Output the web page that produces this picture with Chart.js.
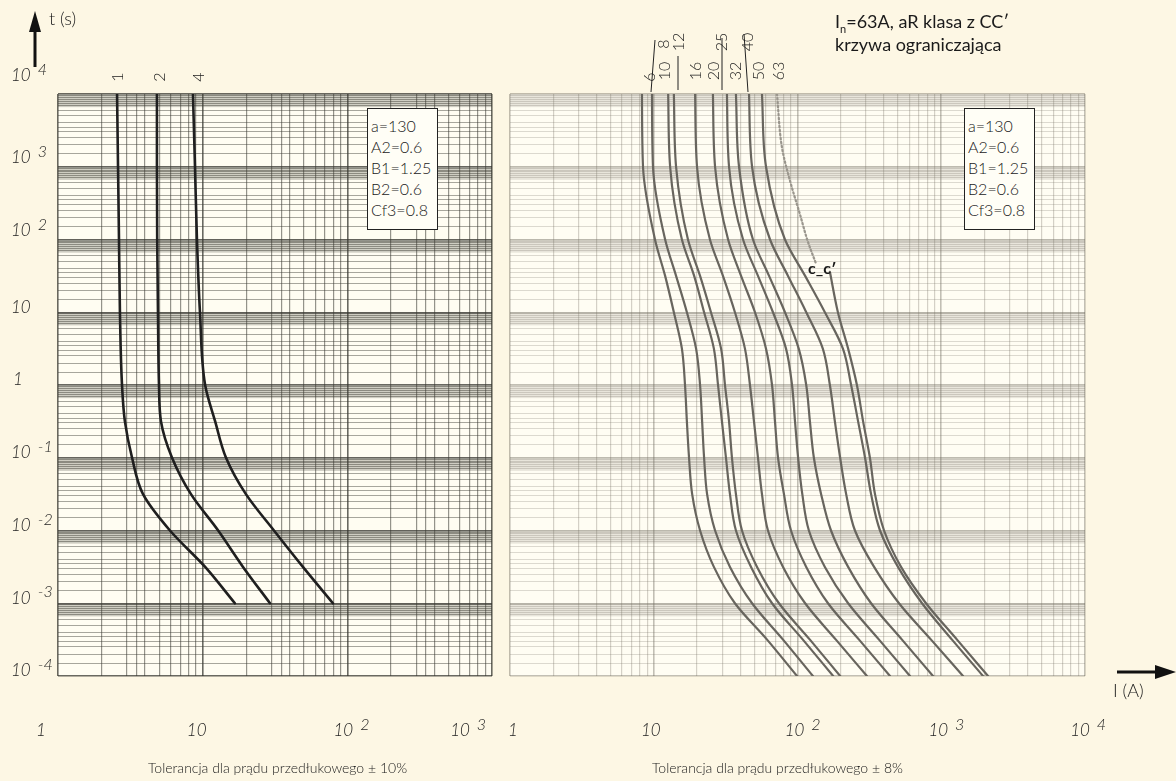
<!DOCTYPE html>
<html lang="pl">
<head>
<meta charset="UTF-8">
<title>Charakterystyki czasowo-prądowe aR</title>
<script src="https://cdn.jsdelivr.net/npm/chart.js"></script>
<style>
  body { margin:0; background:#fdf7e4; width:1176px; height:781px; position:relative; overflow:hidden;
         font-family: Lato, "Open Sans", sans-serif; color:#1a1a1a; }
  canvas { position:absolute; top:0; }
  #leftChart { left:0; }
  #rightChart { left:500px; }
  .txt { position:absolute; white-space:nowrap; font-weight:300; }
  .box { position:absolute; border:1px solid #222; background:#fffef6; font-weight:300;
         font-size:16px; line-height:21px; padding:6px 2px 9px 3px; width:64px; }
  .rot { position:absolute; transform:translate(-50%,-50%) rotate(-90deg); font-size:16px; font-weight:300; }
  svg { position:absolute; left:0; top:0; }
</style>
</head>
<body>

<canvas id="leftChart" width="500" height="781"></canvas>
<canvas id="rightChart" width="676" height="781"></canvas>

<svg width="1176" height="781">
  <line x1="35" y1="67" x2="35" y2="28" stroke="#111" stroke-width="3"/>
  <polygon points="35,11 29,32 41,32" fill="#111"/>
  <line x1="1117" y1="672" x2="1158" y2="672" stroke="#111" stroke-width="3"/>
  <polygon points="1176,672 1155,665 1155,679" fill="#111"/>
  <!-- leader lines under the rating labels -->
  <line x1="655" y1="40" x2="651" y2="92" stroke="#222" stroke-width="1"/>
  <line x1="678" y1="56" x2="678" y2="90" stroke="#222" stroke-width="1"/>
  <line x1="722" y1="38" x2="722" y2="90" stroke="#222" stroke-width="1"/>
  <line x1="744" y1="34" x2="748" y2="92" stroke="#222" stroke-width="1"/>
</svg>

<div class="txt" style="left:49px; top:7px; font-size:18px;">t (s)</div>
<div class="txt" style="left:1113px; top:679px; font-size:18px;">I (A)</div>
<div class="txt" style="left:835px; top:10px; font-size:18px; font-weight:400;">I<sub style="font-size:11px;">n</sub>=63A, aR klasa z CC′</div>
<div class="txt" style="left:835px; top:33px; font-size:18px; font-weight:400;">krzywa ograniczająca</div>
<div class="txt" style="left:148px; top:759px; font-size:14px;">Tolerancja dla prądu przedłukowego ± 10%</div>
<div class="txt" style="left:652px; top:759px; font-size:14px;">Tolerancja dla prądu przedłukowego ± 8%</div>
<div class="txt" style="left:808px; top:258px; font-size:16px; font-weight:700;">c_c′</div>

<div id="boxLeft" class="box" style="left:367px; top:108px;"></div>
<div id="boxRight" class="box" style="left:964px; top:108px;"></div>

<script>
// ---- data ----
// left panel: time levels (s) and current (A) of each curve at those levels
const tLeft = [1e4, 1e3, 1e2, 10, 1, 0.316, 0.1, 0.0316, 0.01, 0.00316, 0.001];
const curve1A = [2.56, 2.60, 2.64, 2.68, 2.77, 2.90, 3.25, 3.87, 5.94, 10.4, 16.7];
const curve2A = [4.83, 4.83, 4.85, 4.91, 4.99, 5.15, 6.14, 8.30, 12.8, 19.0, 29.2];
const curve4A = [8.57, 8.85, 9.13, 9.58, 10.4, 12.2, 14.5, 19.9, 31.1, 49.3, 79.5];

// right panel
const tRight = [1e4, 1e3, 1e2, 31.6, 10, 3.16, 1, 0.316, 0.1, 0.0316, 0.01, 0.00316, 0.001, 3.16e-4, 1e-4];
const curve6A  = [8.28, 8.42, 10.2, 12.0, 13.8, 15.7, 16.5, 17.0, 17.6, 18.5, 21.0, 26.2, 36.7, 61.4, 99.2];
const curve8A  = [9.72, 9.88, 12.0, 14.3, 17.0, 19.7, 21.0, 21.7, 22.4, 23.5, 26.7, 33.9, 48.3, 79.3, 128];
const curve10A = [12.6, 13.0, 15.7, 19.1, 22.4, 26.2, 28.0, 29.8, 31.8, 33.9, 37.3, 47.5, 66.5, 109, 177];
const curve12A = [13.8, 14.3, 17.3, 21.0, 25.0, 29.4, 31.3, 33.4, 35.0, 37.3, 41.1, 52.3, 74.3, 122, 198];
const curve16A = [19.4, 20.0, 24.6, 30.3, 36.7, 43.1, 46.7, 49.8, 53.1, 56.6, 62.3, 79.3, 113, 185, 304];
const curve20A = [25.8, 26.7, 32.9, 40.5, 50.6, 60.4, 66.5, 69.7, 73.2, 80.5, 90.1, 115, 163, 268, 440];
const curve25A = [32.3, 33.4, 41.8, 53.1, 67.5, 83.2, 91.6, 96.1, 101, 108, 120, 155, 225, 369, 606];
const curve32A = [37.3, 39.2, 49.0, 63.4, 81.8, 102, 115, 122, 130, 146, 171, 225, 325, 533, 876];
const curve40A = [46.0, 48.3, 64.4, 85.9, 115, 150, 168, 182, 198, 218, 251, 341, 508, 849, 1417];
const curve50A = [56.6, 60.4, 81.8, 113, 155, 207, 236, 264, 295, 325, 375, 500, 735, 1188, 1952];
// 63 A: solid part starts at point c'
const t63A = [36, 10, 3.16, 1, 0.316, 0.1, 0.0316, 0.01, 0.00316, 0.001, 3.16e-4, 1e-4];
const curve63A = [168, 191, 225, 259, 286, 319, 346, 400, 525, 783, 1287, 2115];
// limiting curve (dotted) down to point c
const tLimit = [1e4, 1837, 640, 222, 93.8, 46.4];
const limitCurve = [72.0, 78.0, 88.7, 104, 118, 134.6];

// tick labels as powers of ten
const yTickExp = [-4, -3, -2, -1, 0, 1, 2, 3, 4];
const xTickExpLeft = [0, 1, 2, 3];
const xTickExpRight = [0, 1, 2, 3, 4];
const boxLines = ['a=130', 'A2=0.6', 'B1=1.25', 'B2=0.6', 'Cf3=0.8'];

// ---- log paper grid ----
const yMults = [1, 1.5, 2, 2.5, 3, 3.5, 4, 5, 6, 7, 7.5, 8, 8.5, 9, 9.5];
const xMultsLeft = [1, 2, 3, 3.5, 4, 5, 6, 7, 8, 9];
const xMultsRight = [1, 2, 3, 4, 5, 6, 7, 8, 9];

function gridTicks(min, max, mults) {
  const out = [];
  for (let e = Math.round(Math.log10(min)); e < Math.round(Math.log10(max)); e++) {
    mults.forEach(m => out.push({ value: m * Math.pow(10, e) }));
  }
  out.push({ value: max });
  return out;
}
function mant(v) {
  const e = Math.floor(Math.log10(v) + 1e-9);
  return Math.round(v / Math.pow(10, e) * 10) / 10;
}

for (const id of ['boxLeft', 'boxRight']) {
  document.getElementById(id).innerHTML = boxLines.join('<br>');
}

function pts(xs, ts) { return xs.map((v, i) => ({ x: v, y: ts[i] })); }

function drawPow(ctx, exp, cx, cy, align) {
  const base = exp === 0 ? '1' : '10';
  const sup = (exp > 1 || exp < 0) ? String(exp) : '';
  ctx.font = 'italic 300 17px Lato, sans-serif';
  const bw = ctx.measureText(base).width;
  ctx.textBaseline = 'middle';
  ctx.textAlign = 'left';
  const x0 = align === 'left' ? cx : cx - bw / 2;
  ctx.fillText(base, x0, cy);
  if (sup) {
    ctx.font = 'italic 300 16px Lato, sans-serif';
    ctx.fillText(sup, x0 + bw + 7, cy - 6);
  }
}

const paperPlugin = {
  id: 'paper',
  beforeDraw(chart, args, opts) {
    const { ctx, chartArea: a } = chart;
    const ys = chart.scales.y;
    ctx.save();
    ctx.fillStyle = opts.bg;
    ctx.fillRect(a.left, a.top, a.right - a.left, a.bottom - a.top);
    ctx.fillStyle = opts.band;
    for (let e = -4; e < 4; e++) {
      const top = ys.getPixelForValue(Math.pow(10, e + 1));
      const bot = ys.getPixelForValue(6.6 * Math.pow(10, e));
      ctx.fillRect(a.left, top, a.right - a.left, bot - top);
    }
    ctx.restore();
  },
  afterDraw(chart, args, opts) {
    const { ctx } = chart;
    const xs = chart.scales.x, ys = chart.scales.y;
    ctx.save();
    ctx.fillStyle = '#1e1e1e';
    if (opts.yLabels) {
      yTickExp.forEach(e => {
        let py = ys.getPixelForValue(Math.pow(10, e)) - 5;
        if (e === 4) py = 76;
        if (e === 3 || e === 2) py -= 4;
        drawPow(ctx, e, e === 0 ? 13 : 11, py, 'left');
      });
    }
    opts.xExp.forEach((e, i) => {
      const px = xs.getPixelForValue(Math.pow(10, e)) + opts.xShift[i];
      drawPow(ctx, e, px, 731, 'center');
    });
    ctx.restore();
  }
};

function makeChart(id, xMax, xMults, datasets, paper) {
  const gridCol = paper.grid;
  return new Chart(document.getElementById(id), {
    type: 'line',
    data: { datasets },
    options: {
      responsive: false,
      animation: false,
      devicePixelRatio: 1,
      indexAxis: 'y',
      layout: { padding: paper.pad },
      elements: { point: { radius: 0 }, line: { cubicInterpolationMode: 'monotone', borderCapStyle: 'round', fill: false } },
      plugins: { legend: { display: false }, tooltip: { enabled: false }, paper },
      scales: {
        x: {
          type: 'logarithmic', min: 1, max: xMax, position: 'bottom',
          afterBuildTicks: s => { s.ticks = gridTicks(1, xMax, xMults); },
          afterFit: s => { s.height = 0; },
          ticks: { display: false, autoSkip: false },
          border: { display: false },
          grid: {
            drawTicks: false,
            color: c => mant(c.tick.value) === 1 ? gridCol.major : gridCol.vx,
            lineWidth: c => mant(c.tick.value) === 1 ? 1.6 : 1.2
          }
        },
        y: {
          type: 'logarithmic', min: 1e-4, max: 1e4, position: 'left',
          afterBuildTicks: s => { s.ticks = gridTicks(1e-4, 1e4, yMults); },
          afterFit: s => { s.width = 0; },
          ticks: { display: false, autoSkip: false },
          border: { display: false },
          grid: {
            drawTicks: false,
            color: c => mant(c.tick.value) === 1 ? gridCol.major : gridCol.hy,
            lineWidth: c => mant(c.tick.value) === 1 ? 1.5 : 1.1
          }
        }
      }
    },
    plugins: [paperPlugin]
  });
}

const darkLine = { borderColor: '#1f1f1f', borderWidth: 2.6 };
makeChart('leftChart', 1e3, xMultsLeft, [
  { label: '1 A', data: pts(curve1A, tLeft), ...darkLine },
  { label: '2 A', data: pts(curve2A, tLeft), ...darkLine },
  { label: '4 A', data: pts(curve4A, tLeft), ...darkLine }
], {
  pad: { left: 58, right: 8, top: 94, bottom: 105 },
  bg: '#fffdf2', band: 'rgba(120,118,108,0.36)',
  grid: { major: 'rgba(55,55,48,0.75)', vx: 'rgba(60,60,52,0.55)', hy: 'rgba(60,60,52,0.45)' },
  yLabels: true, xExp: xTickExpLeft, xShift: [-17, -6, -4, -32]
});

const grayLine = { borderColor: '#68655e', borderWidth: 2.2 };
const rightSeries = [
  ['6 A', curve6A], ['8 A', curve8A], ['10 A', curve10A], ['12 A', curve12A], ['16 A', curve16A],
  ['20 A', curve20A], ['25 A', curve25A], ['32 A', curve32A], ['40 A', curve40A], ['50 A', curve50A]
];
makeChart('rightChart', 1e4, xMultsRight, [
  ...rightSeries.map(([label, xs]) => ({ label, data: pts(xs, tRight), ...grayLine })),
  { label: '63 A', data: pts(curve63A, t63A), ...grayLine },
  { label: 'krzywa ograniczająca', data: pts(limitCurve, tLimit), borderColor: '#9a968d', borderWidth: 2.2, borderDash: [1.5, 2.5] }
], {
  pad: { left: 10, right: 91, top: 94, bottom: 105 },
  bg: '#fffdf3', band: 'rgba(150,146,136,0.22)',
  grid: { major: 'rgba(110,106,94,0.42)', vx: 'rgba(120,116,104,0.32)', hy: 'rgba(120,116,104,0.26)' },
  yLabels: false, xExp: xTickExpRight, xShift: [3, -3, -3, -3, -5]
});

// rotated rating labels above the curves
const ratingLabels = [
  ['1', 116, 77], ['2', 158, 77], ['4', 197, 77],
  ['6', 648, 77], ['8', 662, 44], ['10', 663, 71], ['12', 677, 42], ['16', 694, 71],
  ['20', 712, 71], ['25', 720, 42], ['32', 734, 71], ['40', 746, 42], ['50', 757, 71], ['63', 777, 71]
];
ratingLabels.forEach(([t, x, y]) => {
  const d = document.createElement('div');
  d.className = 'rot';
  d.textContent = t;
  d.style.left = x + 'px';
  d.style.top = y + 'px';
  document.body.appendChild(d);
});
</script>

</body>
</html>
